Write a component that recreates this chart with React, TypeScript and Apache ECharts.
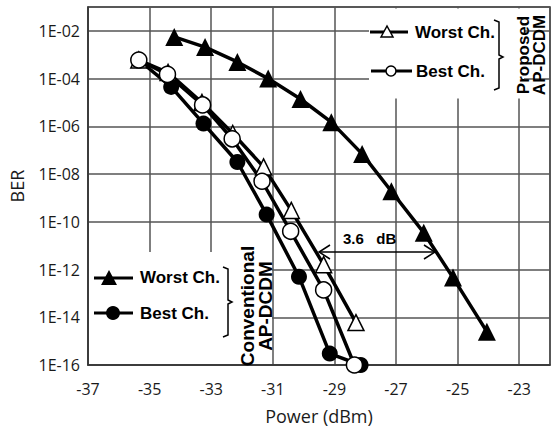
import React, { useEffect, useRef } from "react";
import * as echarts from "echarts";

// Conventional AP-DCDM
const convWorstX = [-34.2, -33.2, -32.15, -31.15, -30.1, -29.1, -28.1, -27.15, -26.1, -25.15, -24.05];
const convWorstBER = [5.6e-3, 2.1e-3, 5e-4, 1e-4, 1.4e-5, 1.5e-6, 7e-8, 1.9e-9, 3.5e-11, 4.6e-13, 2.5e-15];
const convBestX = [-35.35, -34.3, -33.25, -32.15, -31.2, -30.15, -29.15, -28.15];
const convBestBER = [6e-4, 4.5e-5, 1.3e-6, 3.2e-8, 2e-10, 5e-13, 3e-16, 1e-16];
// Proposed AP-DCDM
const propWorstX = [-35.35, -34.4, -33.3, -32.3, -31.3, -30.4, -29.35, -28.3];
const propWorstBER = [6e-4, 1.8e-4, 1e-5, 5e-7, 2e-8, 3e-10, 1.6e-12, 6e-15];
const propBestX = [-35.35, -34.42, -33.28, -32.32, -31.35, -30.42, -29.35, -28.35];
const propBestBER = [6e-4, 1.5e-4, 7.9e-6, 3e-7, 5e-9, 4e-11, 1.4e-13, 1e-16];

const xTicks = [-37, -35, -33, -31, -29, -27, -25, -23];

const zip = (xs: number[], ys: number[]) => xs.map((x, i) => [x, ys[i]]);

const FONT = "'Open Sans', sans-serif";
const BOLD = "'Liberation Sans', Arial, sans-serif";

export default function App() {
  const ref = useRef<HTMLDivElement>(null);
  useEffect(() => {
    if (!ref.current) return;
    const chart = echarts.init(ref.current, undefined, { renderer: "svg" });
    const lineStyle = { color: "#000", width: 3.5 };
    const filled = { color: "#000" };
    const open = { color: "#fff", borderColor: "#000", borderWidth: 1.5 };
    const txt = (x: number, y: number, text: string, extra: any = {}, rotation = 0) => ({
      type: "text",
      x,
      y,
      rotation,
      z: 100,
      style: { text, fill: "#000", font: `bold 17px ${BOLD}`, align: "left", verticalAlign: "middle", ...extra },
    });
    const seg = (x1: number, y1: number, x2: number, y2: number, w = 3) => ({
      type: "line",
      z: 100,
      shape: { x1, y1, x2, y2 },
      style: { stroke: "#000", lineWidth: w },
    });
    const poly = (points: number[][], w = 1.5) => ({
      type: "polyline",
      z: 100,
      shape: { points },
      style: { stroke: "#000", lineWidth: w, fill: null },
    });
    chart.setOption({
      animation: false,
      backgroundColor: "#fff",
      grid: { left: 88, right: 0, top: 7, bottom: 68, show: true, borderColor: "#333", borderWidth: 1.5 },
      xAxis: {
        type: "value",
        min: -37,
        max: -22,
        interval: 2,
        name: "Power (dBm)",
        nameLocation: "middle",
        nameGap: 42,
        nameTextStyle: { fontFamily: FONT, fontSize: 18, color: "#1a1a1a" },
        axisLine: { lineStyle: { color: "#333", width: 1.5 } },
        axisTick: { show: false },
        axisLabel: {
          fontFamily: FONT,
          fontSize: 16,
          color: "#1a1a1a",
          margin: 16,
          formatter: (v: number) => (xTicks.includes(v) ? String(v) : ""),
        },
        splitLine: { show: true, lineStyle: { color: "#555", width: 1.5 } },
      },
      yAxis: {
        type: "log",
        logBase: 10,
        min: 1e-16,
        max: 1e-1,
        interval: 2,
        name: "BER",
        nameLocation: "middle",
        nameGap: 62,
        nameRotate: 90,
        nameTextStyle: { fontFamily: FONT, fontSize: 18, color: "#1a1a1a" },
        axisLine: { lineStyle: { color: "#333", width: 1.5 } },
        axisTick: { show: false },
        axisLabel: {
          fontFamily: FONT,
          fontSize: 16,
          color: "#1a1a1a",
          margin: 8,
          formatter: (v: number) => {
            const e = Math.round(Math.log10(v));
            if (e % 2 !== 0) return "";
            const a = Math.abs(e);
            return "1E" + (e < 0 ? "-" : "+") + (a < 10 ? "0" + a : String(a));
          },
        },
        splitLine: { show: true, lineStyle: { color: "#555", width: 1.5 } },
      },
      series: [
        {
          type: "line",
          data: zip(convWorstX, convWorstBER),
          symbol: "triangle",
          symbolSize: 18,
          lineStyle,
          itemStyle: filled,
          clip: false,
          z: 3,
        },
        {
          type: "line",
          data: zip(convBestX, convBestBER),
          symbol: "circle",
          symbolSize: 16,
          lineStyle,
          itemStyle: filled,
          clip: false,
          z: 3,
        },
        {
          type: "line",
          data: zip(propWorstX, propWorstBER),
          symbol: "triangle",
          symbolSize: 16,
          lineStyle,
          itemStyle: open,
          clip: false,
          z: 4,
        },
        {
          type: "line",
          data: zip(propBestX, propBestBER),
          symbol: "circle",
          symbolSize: 16,
          lineStyle,
          itemStyle: open,
          clip: false,
          z: 4,
        },
      ],
      graphic: [
        // top-right legend box
        { type: "rect", z: 90, shape: { x: 369, y: 8.5, width: 155, height: 90 }, style: { fill: "#fff" } },
        seg(370, 32, 408, 32),
        { type: "polygon", z: 101, shape: { points: [[381, 37], [387, 26], [393, 37]] }, style: { fill: "#fff", stroke: "#000", lineWidth: 1.5 } },
        txt(415, 32, "Worst Ch."),
        seg(371, 71, 412, 71),
        { type: "circle", z: 101, shape: { cx: 391, cy: 71, r: 5 }, style: { fill: "#fff", stroke: "#000", lineWidth: 1.5 } },
        txt(416, 71, "Best Ch."),
        poly([[494, 20], [499, 22], [499, 55], [503, 57], [499, 59], [499, 88], [494, 90]]),
        txt(531, 55, "Proposed\nAP-DCDM", { align: "center", lineHeight: 16, font: `bold 17px ${BOLD}` }, Math.PI / 2),
        // bottom-left legend box
        { type: "rect", z: 90, shape: { x: 89, y: 252, width: 183, height: 112 }, style: { fill: "#fff" } },
        seg(94, 278, 133, 278),
        { type: "polygon", z: 101, shape: { points: [[101, 285], [109, 270], [117, 285]] }, style: { fill: "#000" } },
        txt(140, 277, "Worst Ch."),
        seg(94, 313, 133, 313),
        { type: "circle", z: 101, shape: { cx: 113, cy: 313, r: 7 }, style: { fill: "#000" } },
        txt(140, 313, "Best Ch."),
        poly([[223, 267], [228, 269], [228, 300], [232, 302], [228, 304], [228, 335], [223, 337]]),
        txt(256, 306, "Conventional\nAP-DCDM", { align: "center", lineHeight: 18, font: `bold 19px ${BOLD}` }, Math.PI / 2),
        // 3.6 dB arrow
        seg(319, 252, 435, 252, 1.5),
        poly([[330, 245], [319, 252], [330, 259]]),
        poly([[424, 245], [435, 252], [424, 259]]),
        txt(343, 238, "3.6   dB", { font: `bold 15px ${BOLD}` }),
      ],
    });
    return () => chart.dispose();
  }, []);
  return <div ref={ref} style={{ width: 553, height: 433, position: "absolute", left: 0, top: 0 }} />;
}
